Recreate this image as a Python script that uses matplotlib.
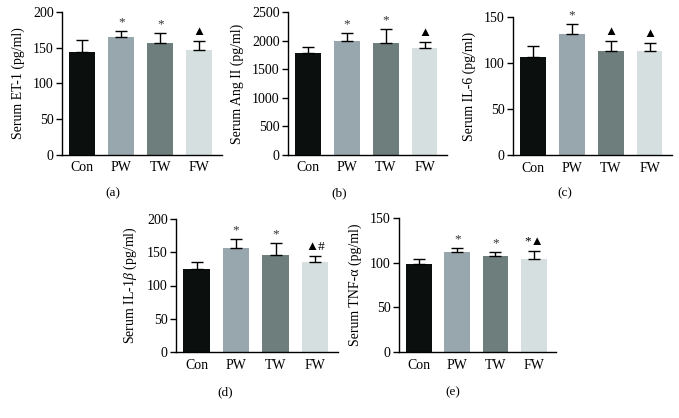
import matplotlib
matplotlib.use("Agg")
import matplotlib.pyplot as plt
import numpy as np

groups = ["Con", "PW", "TW", "FW"]
bar_colors = ["#0b0f0e", "#98a7ad", "#6e7e7c", "#d6dfdf"]

et1_mean = [144, 165, 157, 147]
et1_sd = [17, 9, 14, 13]
et1_sig = ["", "*", "*", "▲"]

ang_mean = [1790, 1995, 1965, 1880]
ang_sd = [100, 145, 245, 105]
ang_sig = ["", "*", "*", "▲"]

il6_mean = [106, 131, 113, 113]
il6_sd = [12, 11, 11, 9]
il6_sig = ["", "*", "▲", "▲"]

il1b_mean = [125, 157, 146, 135]
il1b_sd = [11, 13, 18, 9]
il1b_sig = ["", "*", "*", "▲#"]

tnf_mean = [98.5, 111.5, 108, 104.5]
tnf_sd = [6, 5, 4, 8.5]
tnf_sig = ["", "*", "*", "*▲"]

W, H = 679, 418
plt.rcParams['font.family'] = ['Liberation Serif', 'DejaVu Sans']
plt.rcParams['mathtext.fontset'] = 'custom'
plt.rcParams['mathtext.rm'] = 'Liberation Serif'
plt.rcParams['mathtext.it'] = 'Liberation Serif:italic'
fig = plt.figure(figsize=(W / 100, H / 100), dpi=100)


def make_ax(l, r, t, b):
    return fig.add_axes([l / W, 1 - b / H, (r - l) / W, (b - t) / H])


def panel(ax, means, sds, sig, ymax, ystep, ylabel, caption, cap_xy):
    x = np.arange(len(groups))
    ax.bar(x, means, width=0.67, color=bar_colors, zorder=2)
    ax.errorbar(x, means, yerr=[np.zeros(len(sds)), sds], fmt='none',
                ecolor='black', elinewidth=1.0, capsize=4.5, capthick=1.0, zorder=3)
    for xi, m, s, t in zip(x, means, sds, sig):
        if t:
            ax.annotate(t, (xi, m + s), xytext=(0, 2), textcoords='offset points',
                        ha='center', va='bottom', fontsize=9.5,
                        color='#333333' if t == '*' else 'black')
    ax.set_xlim(-0.52, 3.58)
    ax.set_ylim(0, ymax)
    ax.set_yticks(np.arange(0, ymax + 1, ystep))
    ax.set_xticks(x)
    ax.set_xticklabels(groups)
    ax.tick_params(axis='x', length=0, pad=5, labelsize=10)
    ax.tick_params(axis='y', length=4, width=1, direction='out', labelsize=10, pad=2)
    for s in ['top', 'right']:
        ax.spines[s].set_visible(False)
    for s in ['left', 'bottom']:
        ax.spines[s].set_linewidth(1.0)
    ax.set_ylabel(ylabel, fontsize=10, labelpad=6)
    fig.text(cap_xy[0] / W, 1 - cap_xy[1] / H, caption, ha='center', va='center', fontsize=9.5)


ax_a = make_ax(62, 222, 12.3, 154.5)
panel(ax_a, et1_mean, et1_sd, et1_sig, 200, 50, "Serum ET-1 (pg/ml)", "(a)", (113, 193))

ax_b = make_ax(288, 447, 12.3, 154.5)
panel(ax_b, ang_mean, ang_sd, ang_sig, 2500, 500, "Serum Ang II (pg/ml)", "(b)", (339, 193))

ax_c = make_ax(513, 672, 17, 155)
panel(ax_c, il6_mean, il6_sd, il6_sig, 150, 50, "Serum IL-6 (pg/ml)", "(c)", (565, 193))

ax_d = make_ax(176, 338, 219, 352)
panel(ax_d, il1b_mean, il1b_sd, il1b_sig, 200, 50, r"Serum IL-1$\it{\beta}$ (pg/ml)", "(d)", (225, 392))

ax_e = make_ax(399, 556, 218, 352)
panel(ax_e, tnf_mean, tnf_sd, tnf_sig, 150, 50, "Serum TNF-α (pg/ml)", "(e)", (453, 392))

fig.savefig("out.png", dpi=100, facecolor='white')
